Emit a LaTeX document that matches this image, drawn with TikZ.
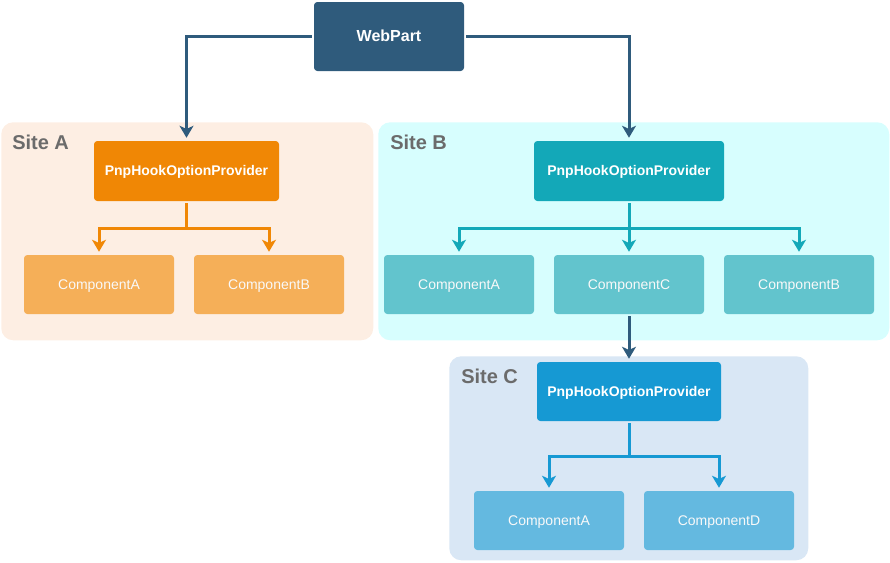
\documentclass[tikz,border=0pt]{standalone}
\usepackage{fontspec}
\setmainfont{Liberation Sans}
\usetikzlibrary{arrows.meta}
\definecolor{wpblue}{HTML}{2F5B7C}
\definecolor{siteAbg}{HTML}{FDEEE3}
\definecolor{siteBbg}{HTML}{D7FEFE}
\definecolor{siteCbg}{HTML}{D9E7F5}
\definecolor{orangeP}{HTML}{F08705}
\definecolor{tealP}{HTML}{13A8B8}
\definecolor{blueP}{HTML}{1699D3}
\definecolor{orangeC}{HTML}{F5AF58}
\definecolor{tealC}{HTML}{62C4CD}
\definecolor{blueC}{HTML}{64B9E0}
\definecolor{sitegray}{HTML}{6B6B6B}
\tikzset{
  box/.style={rectangle, rounded corners=2.5pt, inner sep=0pt, text=white, text height=0.72em, text depth=0pt},
  prov/.style={box, font=\bfseries\fontsize{10.5pt}{12pt}\selectfont, minimum height=45pt},
  comp/.style={box, font=\fontsize{10.5pt}{12pt}\selectfont, minimum width=112.5pt, minimum height=44.25pt, text=white!95!gray},
  site/.style={rectangle, rounded corners=9pt, inner sep=0pt, anchor=north west},
  sitelabel/.style={font=\bfseries\fontsize{15pt}{18pt}\selectfont, text=sitegray, anchor=west, inner sep=0pt},
  conn/.style={line width=2.25pt, -{Stealth[length=9pt, width=10.5pt, inset=2.5pt]}, shorten >=2.25pt, shorten <=1.5pt},
}
\begin{document}
\begin{tikzpicture}[x=0.75pt, y=-0.75pt]
\useasboundingbox (0,0) rectangle (890,562);
% containers
\node[site, fill=siteAbg, minimum width=279pt, minimum height=163.5pt] (siteA) at (1,122) {};
\node[site, fill=siteBbg, minimum width=383.25pt, minimum height=163.5pt] (siteB) at (378,122) {};
\node[site, fill=siteCbg, minimum width=269.25pt, minimum height=153pt] (siteC) at (449,356) {};
\node[sitelabel] (labA) at (12,142) {Site A};
\node[sitelabel] (labB) at (390,142) {Site B};
\node[sitelabel] (labC) at (461,376) {Site C};
% top
\node[box, fill=wpblue, minimum width=112.5pt, minimum height=51.75pt, font=\bfseries\fontsize{12pt}{14pt}\selectfont] (web) at (389,36.5) {WebPart};
% providers
\node[prov, fill=orangeP, minimum width=138.75pt] (pa) at (186.5,171) {PnpHookOptionProvider};
\node[prov, fill=tealP, minimum width=142.5pt] (pb) at (629,171) {PnpHookOptionProvider};
\node[prov, fill=blueP, minimum width=138pt, minimum height=44.25pt] (pc) at (629,391.5) {PnpHookOptionProvider};
% components
\node[comp, fill=orangeC] (aA) at (99,284.5) {ComponentA};
\node[comp, fill=orangeC] (aB) at (269,284.5) {ComponentB};
\node[comp, fill=tealC] (bA) at (459,284.5) {ComponentA};
\node[comp, fill=tealC] (bC) at (629,284.5) {ComponentC};
\node[comp, fill=tealC] (bB) at (799,284.5) {ComponentB};
\node[comp, fill=blueC] (cA) at (549,520.5) {ComponentA};
\node[comp, fill=blueC] (cD) at (719,520.5) {ComponentD};
% junctions
\coordinate (ja) at (186.5,228);
\coordinate (jb) at (629,228);
\coordinate (jc) at (629,456);
% connectors
\draw[conn, wpblue] (web.west) -| (pa.north);
\draw[conn, wpblue] (web.east) -| (pb.north);
\draw[conn, wpblue] (bC.south) -- (pc.north);
\draw[line width=2.25pt, orangeP, shorten <=1.5pt] (pa.south) -- (ja);
\draw[conn, orangeP, shorten <=0pt] (ja) -| (aA.north);
\draw[conn, orangeP, shorten <=0pt] (ja) -| (aB.north);
\draw[line width=2.25pt, tealP, shorten <=1.5pt] (pb.south) -- (jb);
\draw[conn, tealP, shorten <=0pt] (jb) -| (bA.north);
\draw[conn, tealP, shorten <=0pt] (jb) -- (bC.north);
\draw[conn, tealP, shorten <=0pt] (jb) -| (bB.north);
\draw[line width=2.25pt, blueP, shorten <=1.5pt] (pc.south) -- (jc);
\draw[conn, blueP, shorten <=0pt] (jc) -| (cA.north);
\draw[conn, blueP, shorten <=0pt] (jc) -| (cD.north);
\end{tikzpicture}
\end{document}
